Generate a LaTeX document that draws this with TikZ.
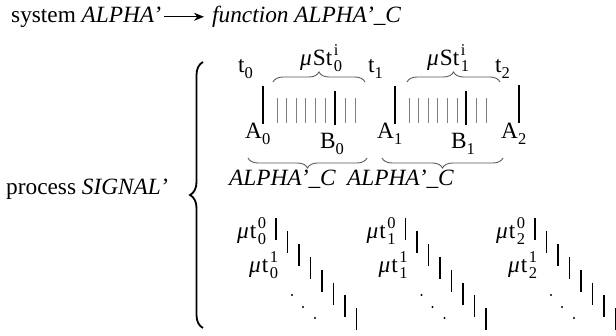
\documentclass[tikz,border=0pt]{standalone}
\usepackage{fontspec}
\setmainfont{Liberation Serif}
\usetikzlibrary{decorations.pathreplacing,arrows.meta}
\newcommand{\scr}{\fontsize{16.5}{18}\selectfont}
\newcommand{\SubSup}[2]{\kern1.5pt\makebox[0pt][l]{\raisebox{0.42em}{\scr #2}}\raisebox{-0.28em}{\scr #1}}
\newcommand{\Sub}[1]{\raisebox{-0.28em}{\scr #1}}
\newcommand{\mub}{\textit{μ}\kern1pt}
\begin{document}
\begin{tikzpicture}[x=1pt,y=-1pt,
  lbl/.style={inner sep=0pt, anchor=base west, font=\fontsize{23.3}{27}\selectfont},
  bigtick/.style={line width=1.6pt, black},
  smalltick/.style={line width=1pt, black!50},
  stairtick/.style={line width=1.4pt, black},
  bigbrace/.style={decorate, decoration={brace, amplitude=13pt}, line width=1.8pt},
  smallbrace/.style={decorate, decoration={brace, amplitude=10pt}, line width=0.9pt, black!65},
  arr/.style={-{Stealth[length=10pt,width=8pt]}, line width=1.2pt, shorten <=3pt, shorten >=8pt}]
\useasboundingbox (0,0) rectangle (616,335);
% top line
\node[lbl] (sys) at (11,22) {system \textit{ALPHA’}};
\node[lbl] (fn) at (212,22) {\textit{function ALPHA’\_C}};
\draw[arr] (sys.east) -- (sys.east -| fn.west);
% process and big brace
\node[lbl] (proc) at (6,194) {process \textit{SIGNAL’}};
\coordinate (bt) at (203,62);
\coordinate (bb) at (203,328);
\draw[bigbrace] (bb) -- (bt);
% t labels
\node[lbl] (t0) at (238,72) {t\Sub{0}};
\node[lbl] (t1) at (368,72) {t\Sub{1}};
\node[lbl] (t2) at (495,72) {t\Sub{2}};
\node[lbl] (st0) at (300,65) {\mub St\SubSup{0}{i}};
\node[lbl] (st1) at (427,65) {\mub St\SubSup{1}{i}};
\coordinate (ub0l) at (273,82); \coordinate (ub0r) at (365,82);
\coordinate (ub1l) at (407,82); \coordinate (ub1r) at (500,82);
\draw[smallbrace] (ub0l) -- (ub0r);
\draw[smallbrace] (ub1l) -- (ub1r);
% ticks
\foreach \A/\B in {263/335, 395/466} {
  \draw[bigtick] (\A,86) -- (\A,124);
  \draw[bigtick] (\B,91) -- (\B,125);
  \foreach \k in {0,...,5} \draw[smalltick] ({\A+14+9.6*\k},98) -- ({\A+14+9.6*\k},123);
  \draw[smalltick] ({\B+10},98) -- ({\B+10},123);
  \draw[smalltick] ({\B+20},98) -- ({\B+20},123);
}
\draw[bigtick] (519,85) -- (519,123);
% A/B labels
\node[lbl] (a0) at (245,138) {A\Sub{0}};
\node[lbl] (b0) at (320,148) {B\Sub{0}};
\node[lbl] (a1) at (377,138) {A\Sub{1}};
\node[lbl] (b1) at (451,148) {B\Sub{1}};
\node[lbl] (a2) at (501,138) {A\Sub{2}};
% lower braces
\coordinate (lb0l) at (248,158); \coordinate (lb0r) at (367,158);
\coordinate (lb1l) at (382,158); \coordinate (lb1r) at (503,158);
\draw[smallbrace] (lb0r) -- (lb0l);
\draw[smallbrace] (lb1r) -- (lb1l);
\node[lbl] (c0) at (229,185) {\textit{ALPHA’\_C}};
\node[lbl] (c1) at (347,185) {\textit{ALPHA’\_C}};
% micro-step groups
\foreach \g in {0,1,2} {
  \pgfmathsetmacro\X{233+129.5*\g}
  \node[lbl] (m\g a) at ({\X+4},238) {\mub t\SubSup{\g}{0}};
  \node[lbl] (m\g b) at ({\X+16},272) {\mub t\SubSup{\g}{1}};
  \foreach \k in {0,...,7} \draw[stairtick] ({\X+43+11.5*\k},{218+12.9*\k}) -- ({\X+43+11.5*\k},{240+12.9*\k});
  \fill ({\X+59},295) circle (1.1pt);
  \fill ({\X+70},307) circle (1.1pt);
  \fill ({\X+82},318) circle (1.1pt);
}
\end{tikzpicture}
\end{document}
